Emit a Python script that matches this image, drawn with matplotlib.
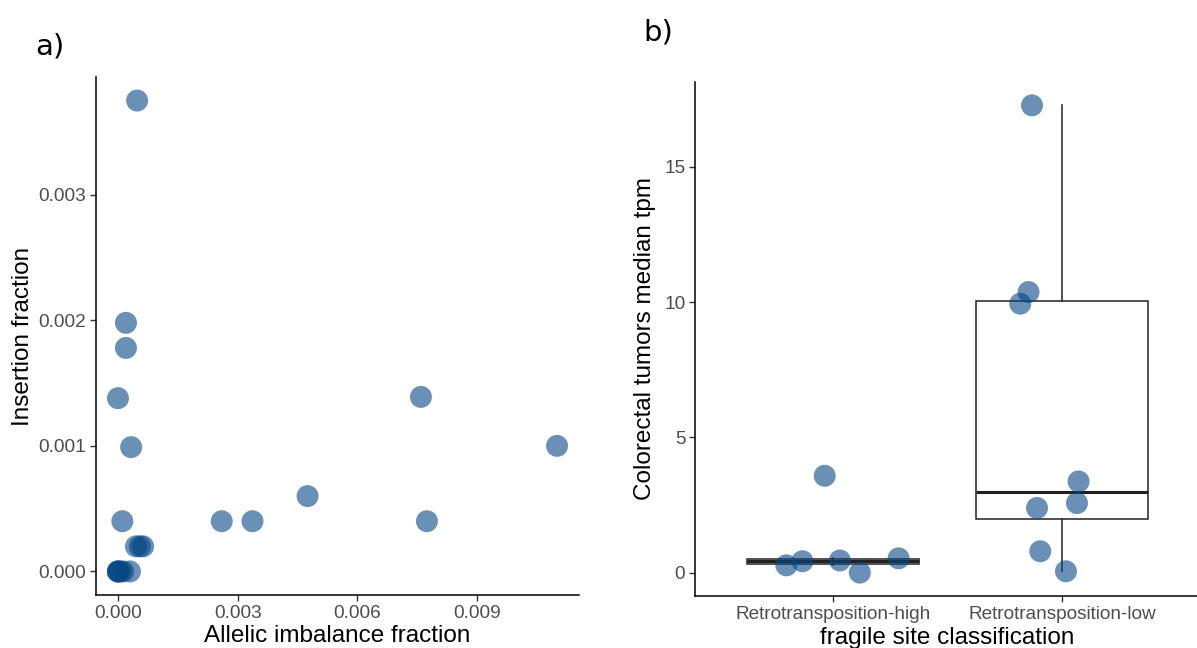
import matplotlib
matplotlib.use("Agg")
import matplotlib.pyplot as plt
import numpy as np

plt.rcParams['font.family'] = ['Liberation Sans', 'DejaVu Sans']

# Panel a data
allelic_imbalance = [0.00048, 0.0002, 0.0002, 0.0, 0.00033, 0.00011,
                     0.00045, 0.00055, 0.00063,
                     0.0, 0.0, 0.0, 0.00006, 0.00013, 0.0003,
                     0.0026, 0.00337, 0.00475, 0.00759, 0.00774, 0.011]
insertion_fraction = [0.00375, 0.00198, 0.00178, 0.00138, 0.00099, 0.0004,
                      0.0002, 0.0002, 0.0002,
                      0.0, 0.0, 0.0, 0.0, 0.0, 0.0,
                      0.0004, 0.0004, 0.0006, 0.00139, 0.0004, 0.001]

# Panel b data
categories = ["Retrotransposition-high", "Retrotransposition-low"]
high_tpm = [3.58, 0.27, 0.42, 0.45, 0.0, 0.53]
high_jitter = [-0.035, -0.202, -0.132, 0.031, 0.118, 0.287]
low_tpm = [17.27, 10.37, 9.94, 3.37, 2.57, 2.39, 0.79, 0.05]
low_jitter = [-0.132, -0.147, -0.183, 0.071, 0.064, -0.11, -0.096, 0.016]

pt_color = "#074685"
pt_alpha = 0.6
pt_size = 250

W, H = 1197, 648
fig = plt.figure(figsize=(W / 100, H / 100), dpi=100)

def px_axes(x0, y0, x1, y1):
    return fig.add_axes([x0 / W, 1 - y1 / H, (x1 - x0) / W, (y1 - y0) / H])

tick_color = "#4d4d4d"
tick_fs = 13.7
title_fs = 17.5

def style(ax):
    for s in ["top", "right"]:
        ax.spines[s].set_visible(False)
    for s in ["left", "bottom"]:
        ax.spines[s].set_linewidth(1.1)
        ax.spines[s].set_color("black")
    ax.tick_params(axis="both", colors="#333333", labelcolor=tick_color,
                   labelsize=tick_fs, length=4, width=1, pad=3)
    ax.set_facecolor("white")

# Panel a
ax1_box = (96, 77, 579, 595)
ax1 = px_axes(*ax1_box)
ax1.scatter(allelic_imbalance, insertion_fraction, s=pt_size, color=pt_color,
            alpha=pt_alpha, edgecolors="none", zorder=3)
ax1.set_xlim(-0.00055, 0.01155)
ax1.set_ylim(-0.0001875, 0.0039375)
ax1.set_xticks([0.0, 0.003, 0.006, 0.009])
ax1.set_xticklabels(["0.000", "0.003", "0.006", "0.009"])
ax1.set_yticks([0.0, 0.001, 0.002, 0.003])
ax1.set_yticklabels(["0.000", "0.001", "0.002", "0.003"])
style(ax1)
ax1.set_xlabel("Allelic imbalance fraction", fontsize=title_fs, va="center")
ax1.set_ylabel("Insertion fraction", fontsize=title_fs, va="center")

def set_coords(ax, box, xl_y, yl_x):
    x0, y0, x1, y1 = box
    ax.xaxis.set_label_coords(0.5, (y1 - xl_y) / (y1 - y0))
    ax.yaxis.set_label_coords((yl_x - x0) / (x1 - x0), 0.5)

set_coords(ax1, ax1_box, 636, 23)

# Panel b
ax2_box = (695, 82, 1200, 596)
ax2 = px_axes(*ax2_box)
data = [high_tpm, low_tpm]
positions = [1, 2]
ax2.boxplot(data, positions=positions, widths=0.75, showfliers=False,
            patch_artist=True,
            boxprops=dict(facecolor="white", edgecolor="#222222", linewidth=1.1),
            medianprops=dict(color="#222222", linewidth=2.2),
            whiskerprops=dict(color="#222222", linewidth=1.1),
            capprops=dict(linewidth=0))
for pos, vals, jit in zip(positions, data, [high_jitter, low_jitter]):
    xs = [pos + j for j in jit]
    ax2.scatter(xs, vals, s=pt_size, color=pt_color, alpha=pt_alpha,
                edgecolors="none", zorder=3)
ax2.set_xlim(0.4, 2.6)
ax2.set_ylim(-0.8635, 18.1335)
ax2.set_xticks(positions)
ax2.set_xticklabels(categories)
ax2.set_yticks([0, 5, 10, 15])
style(ax2)
ax2.set_xlabel("fragile site classification", fontsize=title_fs, va="center")
ax2.set_ylabel("Colorectal tumors median tpm", fontsize=title_fs, va="center")
set_coords(ax2, ax2_box, 638, 645)

fig.text(35 / W, 1 - 46 / H, "a)", fontsize=21, family="DejaVu Sans", va="center", ha="left")
fig.text(643 / W, 1 - 32 / H, "b)", fontsize=21, family="DejaVu Sans", va="center", ha="left")

fig.savefig("out.png", dpi=100, facecolor="white")
